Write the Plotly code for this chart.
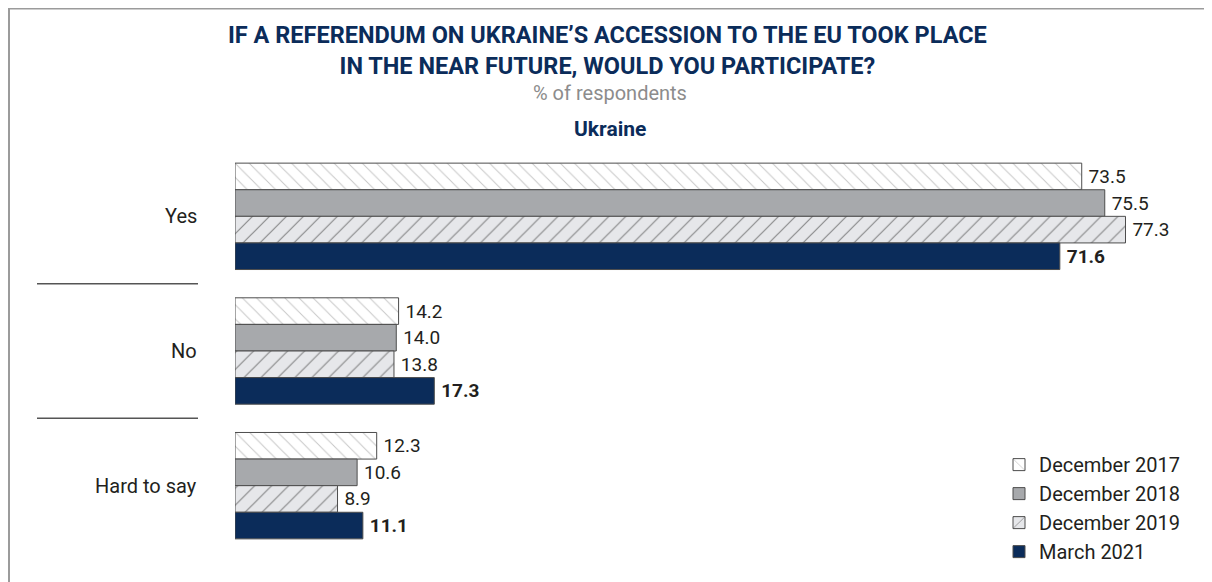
import plotly.graph_objects as go

categories = ["Yes", "No", "Hard to say"]
series_names = ["December 2017", "December 2018", "December 2019", "March 2021"]
dec2017 = [73.5, 14.2, 12.3]
dec2018 = [75.5, 14.0, 10.6]
dec2019 = [77.3, 13.8, 8.9]
mar2021 = [71.6, 17.3, 11.1]
values = [dec2017, dec2018, dec2019, mar2021]
title_lines = ["IF A REFERENDUM ON UKRAINE’S ACCESSION TO THE EU TOOK PLACE",
               "IN THE NEAR FUTURE, WOULD YOU PARTICIPATE?"]

NAVY = "#0b2c5a"
TXT = "#231f20"
FONT = "Roboto"

OFF = 8  # browser body margin
W_FIG, H_FIG = 1212 - OFF, 582 - OFF
L = 235 - OFF
R = 10
T = 149.25 - OFF
PH = 403.5
PW = W_FIG - L - R
B = H_FIG - T - PH
XMAX = PW / 11.52

def xp(px):
    # page x pixel -> paper coordinate
    return (px - OFF - L) / PW

def yp(py):
    # page y pixel -> paper coordinate
    return 1 - (py - OFF - T) / PH

styles = [
    dict(color="#ffffff", pattern=dict(shape="\\", bgcolor="#ffffff", fgcolor="#8f8f8f", size=10, solidity=0.1)),
    dict(color="#a7a9ac", pattern=dict(shape="")),
    dict(color="#e6e7ea", pattern=dict(shape="/", bgcolor="#e6e7ea", fgcolor="#2a2a2a", size=12, solidity=0.1)),
    dict(color=NAVY, pattern=dict(shape="")),
]

fig = go.Figure()
for i, (name, vals) in enumerate(zip(series_names, values)):
    bold = i == 3
    fig.add_trace(go.Bar(
        y=categories, x=vals, name=name, orientation="h",
        marker=dict(color=styles[i]["color"], pattern=styles[i]["pattern"],
                    line=dict(color="#4d4d4d", width=1)),
        text=[f"\u2009<b>{v:.1f}</b>" if bold else f"\u2009{v:.1f}" for v in vals],
        textposition="outside", cliponaxis=False, constraintext="none",
        textfont=dict(family=FONT, size=19, color=TXT),
    ))

annotations = [
    dict(text="<b>" + "<br>".join(title_lines) + "</b>", x=xp(607), y=yp(51), xref="paper", yref="paper",
         xanchor="center", yanchor="middle", showarrow=False, align="center",
         font=dict(family=FONT, size=23.5, color=NAVY)),
    dict(text="% of respondents", x=xp(610), y=yp(93), xref="paper", yref="paper",
         xanchor="center", yanchor="middle", showarrow=False,
         font=dict(family=FONT, size=20, color="#8c8c8c")),
    dict(text="<b>Ukraine</b>", x=xp(610), y=yp(129), xref="paper", yref="paper",
         xanchor="center", yanchor="middle", showarrow=False,
         font=dict(family=FONT, size=21, color=NAVY)),
]
for c in categories:
    annotations.append(dict(text=c, x=xp(199), y=c, xref="paper", yref="y",
                            xanchor="right", yanchor="middle", showarrow=False,
                            font=dict(family=FONT, size=20, color=TXT)))

shapes = [
    dict(type="line", xref="paper", yref="paper", x0=xp(6), x1=xp(1230), y0=yp(9), y1=yp(9),
         line=dict(color="#9b9b9b", width=2)),
    dict(type="line", xref="paper", yref="paper", x0=xp(9), x1=xp(9), y0=yp(8), y1=yp(600),
         line=dict(color="#9b9b9b", width=2)),
]
for yy in (0.5, 1.5):
    shapes.append(dict(type="line", xref="paper", yref="y", x0=xp(37), x1=xp(198), y0=yy, y1=yy,
                       line=dict(color="#555555", width=1.5)))

fig.update_layout(
    width=W_FIG, height=H_FIG,
    margin=dict(l=L, r=R, t=T, b=B, autoexpand=False),
    paper_bgcolor="white", plot_bgcolor="white",
    barmode="group", bargap=0.21, bargroupgap=0,
    showlegend=True,
    legend=dict(x=xp(999), y=yp(445), xanchor="left", yanchor="top",
                font=dict(family=FONT, size=20, color=TXT), traceorder="normal",
                itemwidth=30, tracegroupgap=0, bgcolor="rgba(0,0,0,0)"),
    xaxis=dict(range=[0, XMAX], visible=False),
    yaxis=dict(categoryorder="array", categoryarray=categories, range=[2.5, -0.5],
               showticklabels=False, showgrid=False, zeroline=False, showline=False, ticks=""),
    annotations=annotations, shapes=shapes,
    font=dict(family=FONT, color=TXT),
)

fig.write_html("out.html")
